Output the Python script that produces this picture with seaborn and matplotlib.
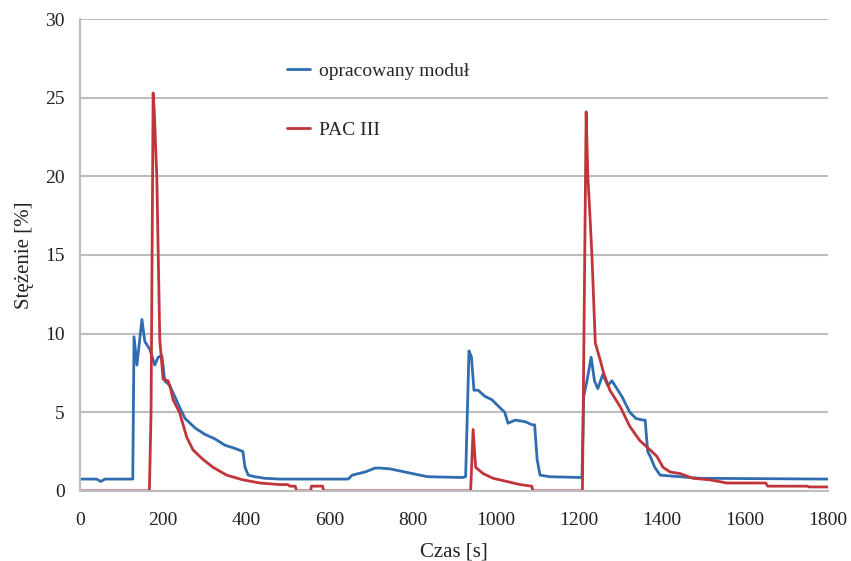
import matplotlib
matplotlib.use('Agg')
import matplotlib.pyplot as plt
import seaborn as sns
import pandas as pd

# czas [s] i stezenie [%]
blue_t = [0, 40, 50, 60, 70, 127, 130, 137, 149, 156, 168, 180, 188, 197, 204, 216,
          228, 240, 253, 277, 300, 325, 349, 373, 392, 397, 405, 421, 445, 480, 645,
          655, 670, 686, 710, 722, 746, 782, 818, 837, 920, 928, 936, 942, 948, 958,
          975, 991, 1010, 1022, 1030, 1047, 1071, 1088, 1094, 1100, 1107, 1131, 1208,
          1212, 1220, 1230, 1238, 1246, 1258, 1270, 1280, 1292, 1304, 1323, 1338,
          1355, 1360, 1366, 1372, 1383, 1396, 1444, 1492, 1800]
blue_y = [0.75, 0.75, 0.6, 0.75, 0.75, 0.75, 9.8, 8.0, 10.9, 9.5, 9.0, 8.0, 8.5, 8.6, 7.0, 6.7,
          6.0, 5.3, 4.6, 4.0, 3.6, 3.3, 2.9, 2.7, 2.5, 1.5, 1.0, 0.9, 0.8, 0.75, 0.75,
          1.0, 1.1, 1.2, 1.45, 1.45, 1.4, 1.2, 1.0, 0.9, 0.85, 0.9, 8.9, 8.5, 6.4, 6.4,
          6.0, 5.8, 5.3, 5.0, 4.3, 4.5, 4.4, 4.2, 4.2, 2.0, 1.0, 0.9, 0.85,
          6.0, 7.0, 8.5, 7.0, 6.5, 7.4, 6.7, 7.0, 6.5, 6.0, 5.0, 4.6,
          4.5, 4.5, 2.5, 2.2, 1.5, 1.0, 0.9, 0.8, 0.75]

red_t = [0, 167, 171, 176, 179, 185, 192, 200, 212, 218, 224, 240, 257, 272, 296, 320,
         353, 392, 433, 481, 500, 505, 518, 521, 555, 557, 584, 586, 940, 946, 952, 970,
         994, 1027, 1059, 1087, 1090, 1209, 1218, 1222, 1226, 1232, 1240, 1252, 1260,
         1275, 1300, 1323, 1347, 1372, 1388, 1403, 1420, 1444, 1475, 1516, 1557, 1650,
         1655, 1750, 1755, 1800]
red_y = [0, 0, 5.0, 25.3, 24.0, 19.8, 9.6, 7.1, 7.0, 6.5, 5.8, 4.95, 3.4, 2.6, 2.0, 1.5,
         1.0, 0.7, 0.5, 0.4, 0.4, 0.3, 0.3, 0, 0, 0.3, 0.3, 0, 0, 3.9, 1.5, 1.1,
         0.8, 0.6, 0.4, 0.3, 0, 0, 24.1, 20.0, 18.1, 14.9, 9.4, 8.3, 7.5,
         6.4, 5.35, 4.1, 3.2, 2.6, 2.2, 1.5, 1.2, 1.1, 0.8, 0.7, 0.5, 0.5,
         0.3, 0.3, 0.25, 0.25]

labels = ['opracowany moduł', 'PAC III']
colors = ['#2f6db0', '#c0353a']
x_ticks = list(range(0, 1801, 200))
y_ticks = list(range(0, 31, 5))

df = pd.concat([
    pd.DataFrame({'czas': blue_t, 'stezenie': blue_y, 'seria': labels[0]}),
    pd.DataFrame({'czas': red_t, 'stezenie': red_y, 'seria': labels[1]}),
], ignore_index=True)

sns.set_style('white')
plt.rcParams['font.family'] = ['Liberation Serif', 'DejaVu Serif']

fig = plt.figure(figsize=(8.51, 5.61), dpi=100)
ax = fig.add_axes([0.094, 0.125, 0.879, 0.841])

sns.lineplot(data=df, x='czas', y='stezenie', hue='seria', hue_order=labels,
             palette=colors, sort=False, estimator=None, linewidth=2, ax=ax)

ax.set_xlim(0, 1800)
ax.set_ylim(0, 30)
ax.set_xticks(x_ticks)
ax.set_yticks(y_ticks)
ax.yaxis.grid(True, color='#bdbdbd', linewidth=1.5)
ax.set_axisbelow(True)
for s in ['top', 'right']:
    ax.spines[s].set_visible(False)
for s in ['left', 'bottom']:
    ax.spines[s].set_color('#bdbdbd')
    ax.spines[s].set_linewidth(1.5)
ax.tick_params(axis='both', colors='#bdbdbd', labelcolor='#222222', labelsize=14,
               length=6, width=1.3, direction='out')
ax.tick_params(axis='x', pad=9)
ax.tick_params(axis='y', pad=5)

ax.set_xlabel('Czas [s]', fontsize=15, color='#222222', labelpad=10)
ax.set_ylabel('Stężenie [%]', fontsize=15, color='#222222', labelpad=8)

ax.legend(loc='upper left', bbox_to_anchor=(0.253, 0.945), frameon=False, fontsize=14,
          handlelength=1.2, handletextpad=0.45, labelspacing=2.1)

plt.savefig('out.png', dpi=100)
plt.close()
